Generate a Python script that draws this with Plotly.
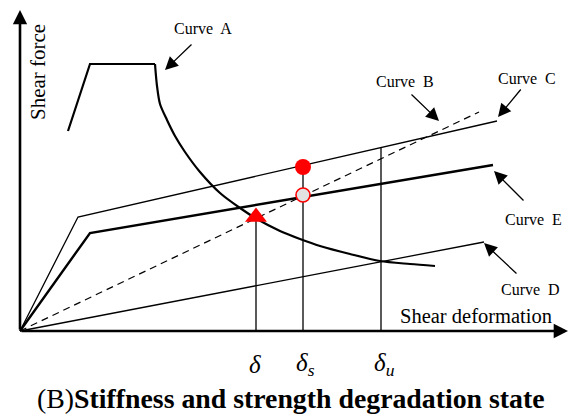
import plotly.graph_objects as go

# Schematic force-deformation curves (deformation, force) in drawing units
# Curve A: rising branch and plateau, then the degrading branch
curve_a_rise_x = [48, 70, 135]
curve_a_rise_y = [200, 267, 267]
curve_a_fall_x = [135, 137, 140, 147, 155, 165, 180, 200, 220, 237, 260, 280, 300, 330, 360, 390, 415]
curve_a_fall_y = [267, 245, 227, 211, 195, 179, 159, 138, 123, 112, 100, 92, 85, 77, 70, 67, 65]

curve_b_x = [0, 459]
curve_b_y = [0, 219]

curve_c_x = [0, 58, 477]
curve_c_y = [0, 114, 210]

curve_d_x = [0, 464]
curve_d_y = [0, 89]

curve_e_x = [0, 70, 473]
curve_e_y = [0, 98, 166]

# Characteristic deformations
delta_x = [236, 283, 361]
delta_top = [113, 164, 183]
delta_labels = ["δ", "δ<sub>s</sub>", "δ<sub>u</sub>"]

# Labelled curves: text position, arrow tail, arrow tip
labels = ["Curve  A", "Curve  B", "Curve  C", "Curve  E", "Curve  D"]
label_pos = [(183, 303), (385, 250), (507, 253), (513, 112), (510, 42)]
arrow_tail = [(173, 288), (390, 238), (502, 243), (505, 129), (498, 56)]
arrow_tip = [(145, 261), (419, 210), (478, 214), (474, 160), (464, 88)]

SERIF = "Liberation Serif"

fig = go.Figure()

fig.add_trace(go.Scatter(x=curve_a_rise_x, y=curve_a_rise_y, mode="lines",
                         line=dict(color="black", width=2.2)))
fig.add_trace(go.Scatter(x=curve_a_fall_x, y=curve_a_fall_y, mode="lines",
                         line=dict(color="black", width=2.2, shape="spline", smoothing=0.8)))
fig.add_trace(go.Scatter(x=curve_b_x, y=curve_b_y, mode="lines",
                         line=dict(color="black", width=1.2, dash="7px,5px")))
fig.add_trace(go.Scatter(x=curve_c_x, y=curve_c_y, mode="lines",
                         line=dict(color="black", width=1.3)))
fig.add_trace(go.Scatter(x=curve_d_x, y=curve_d_y, mode="lines",
                         line=dict(color="black", width=1.3)))
fig.add_trace(go.Scatter(x=curve_e_x, y=curve_e_y, mode="lines",
                         line=dict(color="black", width=2.4)))

# Vertical guide lines from the axis up to each characteristic point
for xv, yt in zip(delta_x, delta_top):
    fig.add_trace(go.Scatter(x=[xv, xv], y=[0, yt], mode="lines",
                             line=dict(color="black", width=1.3)))

# Markers at the characteristic points
fig.add_trace(go.Scatter(x=[delta_x[0]], y=[delta_top[0] + 1], mode="markers",
                         marker=dict(symbol="triangle-up", size=19, color="red")))
fig.add_trace(go.Scatter(x=[delta_x[1]], y=[delta_top[1]], mode="markers",
                         marker=dict(symbol="circle", size=16, color="red")))
fig.add_trace(go.Scatter(x=[delta_x[1]], y=[136], mode="markers",
                         marker=dict(symbol="circle", size=14, color="#e2e2e2",
                                     line=dict(color="red", width=1.6))))

annotations = []

# Axes drawn as arrows
annotations.append(dict(x=0, y=321, ax=0, ay=0, xref="x", yref="y", axref="x", ayref="y",
                        text="", showarrow=True, arrowhead=2, arrowsize=1.1,
                        arrowwidth=2.6, arrowcolor="black"))
annotations.append(dict(x=548, y=0, ax=0, ay=0, xref="x", yref="y", axref="x", ayref="y",
                        text="", showarrow=True, arrowhead=2, arrowsize=1.1,
                        arrowwidth=2.6, arrowcolor="black"))

annotations.append(dict(x=18, y=259, xref="x", yref="y", text="Shear force", textangle=-90,
                        showarrow=False, font=dict(family=SERIF, size=21, color="black")))
annotations.append(dict(x=456, y=15, xref="x", yref="y", text="Shear deformation",
                        showarrow=False, font=dict(family=SERIF, size=20.5, color="black")))

for txt, (lx, ly), (tx, ty), (hx, hy) in zip(labels, label_pos, arrow_tail, arrow_tip):
    annotations.append(dict(x=lx, y=ly, xref="x", yref="y", text=txt, showarrow=False,
                            font=dict(family=SERIF, size=16, color="black")))
    annotations.append(dict(x=hx, y=hy, ax=tx, ay=ty, xref="x", yref="y",
                            axref="x", ayref="y", text="", showarrow=True,
                            arrowhead=2, arrowsize=2.0, arrowwidth=1.3,
                            arrowcolor="black"))

for xv, txt in zip(delta_x, delta_labels):
    annotations.append(dict(x=xv, y=-33, xref="x", yref="y", text=f"<i>{txt}</i>",
                            xanchor="left", xshift=-9, showarrow=False,
                            font=dict(family=SERIF, size=25, color="black")))

annotations.append(dict(x=271, y=-67, xref="x", yref="y",
                        text="(B)<b>Stiffness and strength degradation state</b>",
                        showarrow=False, font=dict(family=SERIF, size=27.8, color="black")))

fig.update_layout(
    width=572, height=419,
    margin=dict(l=0, r=0, t=0, b=0),
    paper_bgcolor="white", plot_bgcolor="white",
    showlegend=False,
    xaxis=dict(range=[-20, 552], visible=False, fixedrange=True),
    yaxis=dict(range=[-88, 331], visible=False, fixedrange=True),
    annotations=annotations,
)

fig.write_html("out.html")
